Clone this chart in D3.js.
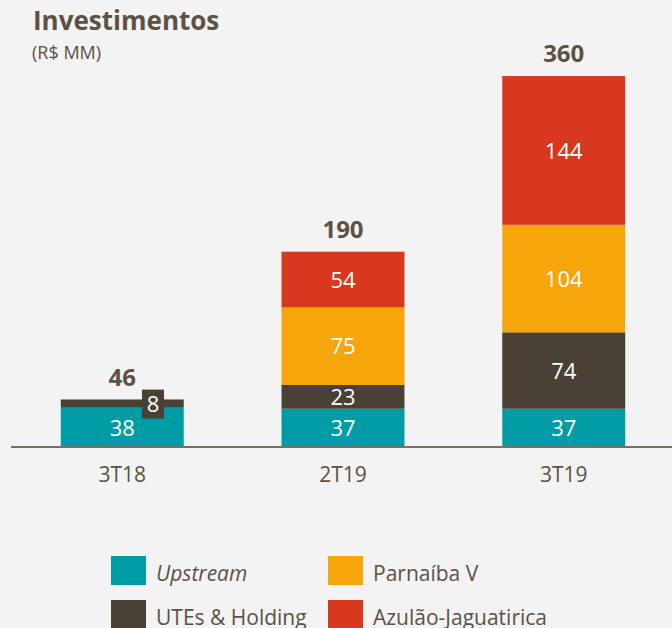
<!DOCTYPE html>
<html>
<head>
<meta charset="utf-8">
<script src="https://cdn.jsdelivr.net/npm/d3@7"></script>
<style>
	body { margin: 0; background: #f3f3f3; }
	svg { display: block; font-family: "Open Sans", sans-serif; }
</style>
</head>
<body>
<div id="chart"></div>
<script>
"use strict";

var categories = ["3T18", "2T19", "3T19"];
var seriesNames = ["Upstream", "UTEs & Holding", "Parnaíba V", "Azulão-Jaguatirica"];
var upstream = [38, 37, 37];
var utes = [8, 23, 74];
var parnaiba = [0, 75, 104];
var azulao = [0, 54, 144];
var totals = [46, 190, 360];

var colors = ["#009ca6", "#4a4135", "#f6a50a", "#d7381e"];
var textColor = "#5b5145";

var svg = d3.select("#chart").append("svg")
	.attr("width", 672).attr("height", 628);

// title
svg.append("text").attr("x", 33).attr("y", 30)
	.style("font-size", "26px").style("font-weight", "bold").attr("fill", textColor)
	.text("Investimentos");
svg.append("text").attr("x", 32).attr("y", 59)
	.style("font-size", "18px").attr("fill", textColor)
	.text("(R$ MM)");

var baseY = 447;

var x = d3.scaleBand().domain(categories).range([12, 674])
	.paddingInner(0.443).paddingOuter(0.221);
var y = d3.scaleLinear().domain([0, 360]).range([baseY, 75]);

// build rows for the stack
var rows = categories.map(function(c, i) {
	return { cat: c, s0: upstream[i], s1: utes[i], s2: parnaiba[i], s3: azulao[i] };
});
var stack = d3.stack().keys(["s0", "s1", "s2", "s3"])(rows);

var g = svg.append("g");

var layer = g.selectAll(".layer")
	.data(stack)
	.enter().append("g")
	.attr("class", "layer")
	.attr("fill", function(d, i) { return colors[i]; });

layer.selectAll("rect")
	.data(function(d) { return d; })
	.enter().append("rect")
	.attr("x", function(d) { return x(d.data.cat); })
	.attr("width", x.bandwidth())
	.attr("y", function(d) { return y(d[1]); })
	.attr("height", function(d) { return y(d[0]) - y(d[1]); });

// segment labels
stack.forEach(function(s) {
	s.forEach(function(d) {
		var v = d[1] - d[0];
		if (v <= 0) return;
		var cx = x(d.data.cat) + x.bandwidth() / 2;
		var cy = (y(d[0]) + y(d[1])) / 2;
		if (v < 15) {
			// small slice: label sits in a dark box
			cx = x(d.data.cat) + x.bandwidth() * 0.75;
			g.append("rect")
				.attr("x", cx - 11).attr("y", cy - 14)
				.attr("width", 22).attr("height", 29)
				.attr("fill", colors[1]);
		}
		g.append("text")
			.attr("x", cx).attr("y", cy)
			.attr("dy", "0.37em")
			.attr("text-anchor", "middle")
			.attr("fill", "#fff")
			.style("font-size", "22px")
			.text(v);
	});
});

// totals
g.selectAll(".total")
	.data(categories)
	.enter().append("text")
	.attr("class", "total")
	.attr("x", function(d) { return x(d) + x.bandwidth() / 2; })
	.attr("y", function(d, i) { return y(totals[i]) - 13; })
	.attr("text-anchor", "middle")
	.attr("fill", textColor)
	.style("font-size", "24px").style("font-weight", "bold")
	.text(function(d, i) { return totals[i]; });

// x axis
var axis = svg.append("g")
	.attr("transform", "translate(0," + baseY + ")")
	.call(d3.axisBottom(x).tickSize(0).tickPadding(20));
axis.select(".domain").attr("stroke", "#7a7060").attr("stroke-width", 2)
	.attr("d", "M11,0H672");
axis.selectAll("text")
	.attr("fill", textColor)
	.style("font-size", "21px")
	.style("font-family", "'Open Sans', sans-serif");

// legend
var legendPos = [[111, 556], [111, 600], [328, 556], [328, 600]];
var legend = svg.selectAll(".legend")
	.data(seriesNames)
	.enter().append("g")
	.attr("class", "legend")
	.attr("transform", function(d, i) { return "translate(" + legendPos[i][0] + "," + legendPos[i][1] + ")"; });

legend.append("rect")
	.attr("width", 35).attr("height", 29)
	.attr("fill", function(d, i) { return colors[i]; });

legend.append("text")
	.attr("x", 45).attr("y", 25)
	.attr("fill", textColor)
	.style("font-size", "21px")
	.style("font-style", function(d, i) { return i === 0 ? "italic" : "normal"; })
	.text(function(d) { return d; });
</script>
</body>
</html>
